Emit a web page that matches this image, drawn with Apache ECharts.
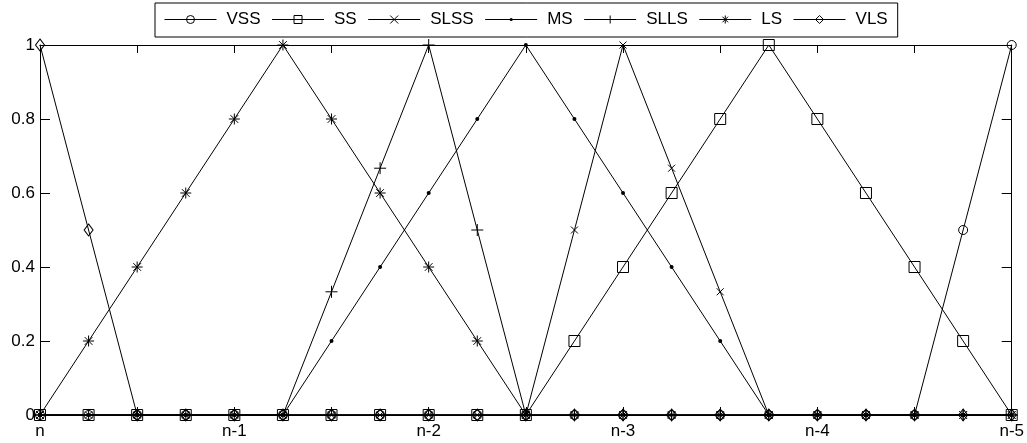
<!DOCTYPE html>
<html>
<head>
<meta charset="utf-8">
<script src="https://cdn.jsdelivr.net/npm/echarts@6/dist/echarts.min.js"></script>
<style>
  html, body { margin: 0; padding: 0; background: #fff; }
  #chart { width: 1027px; height: 443px; }
</style>
</head>
<body>
<div id="chart"></div>
<script>
// Input position (in steps of one lag) and membership grades per fuzzy set
const xs = [0, 0.25, 0.5, 0.75, 1, 1.25, 1.5, 1.75, 2, 2.25, 2.5, 2.75, 3, 3.25, 3.5, 3.75, 4, 4.25, 4.5, 4.75, 5];
const tickLabels = ['n', 'n-1', 'n-2', 'n-3', 'n-4', 'n-5'];
const setNames = ['VSS', 'SS', 'SLSS', 'MS', 'SLLS', 'LS', 'VLS'];

const VSS  = [0, 0, 0, 0, 0, 0, 0, 0, 0, 0, 0, 0, 0, 0, 0, 0, 0, 0, 0, 0.5, 1];
const SS   = [0, 0, 0, 0, 0, 0, 0, 0, 0, 0, 0, 0.2, 0.4, 0.6, 0.8, 1, 0.8, 0.6, 0.4, 0.2, 0];
const SLSS = [0, 0, 0, 0, 0, 0, 0, 0, 0, 0, 0, 0.5, 1, 0.667, 0.333, 0, 0, 0, 0, 0, 0];
const MS   = [0, 0, 0, 0, 0, 0, 0.2, 0.4, 0.6, 0.8, 1, 0.8, 0.6, 0.4, 0.2, 0, 0, 0, 0, 0, 0];
const SLLS = [0, 0, 0, 0, 0, 0, 0.333, 0.667, 1, 0.5, 0, 0, 0, 0, 0, 0, 0, 0, 0, 0, 0];
const LS   = [0, 0.2, 0.4, 0.6, 0.8, 1, 0.8, 0.6, 0.4, 0.2, 0, 0, 0, 0, 0, 0, 0, 0, 0, 0, 0];
const VLS  = [1, 0.5, 0, 0, 0, 0, 0, 0, 0, 0, 0, 0, 0, 0, 0, 0, 0, 0, 0, 0, 0];

const values = [VSS, SS, SLSS, MS, SLLS, LS, VLS];

// Marker shapes
const PLUS  = 'path://M5,0L5,10M0,5L10,5';
const CROSS = 'path://M0,0L10,10M10,0L0,10';
const STAR  = 'path://M5,0L5,10M0,5L10,5M1.5,1.5L8.5,8.5M8.5,1.5L1.5,8.5';
const DOT   = 'path://M0,0M10,10M3,5A2,2,0,1,1,7,5A2,2,0,1,1,3,5Z';

const hollow = { color: 'none', borderColor: '#000', borderWidth: 1 };
const markers = [
  { symbol: 'circle',  size: 9,       style: hollow },
  { symbol: 'rect',    size: 11,      style: hollow },
  { symbol: CROSS,     size: 7,       style: hollow },
  { symbol: DOT,       size: 10,      style: { color: '#000', borderWidth: 0 } },
  { symbol: PLUS,      size: 12,      style: hollow },
  { symbol: STAR,      size: 11,      style: hollow },
  { symbol: 'diamond', size: [9, 12], style: hollow }
];

const FONT = 'Liberation Sans, Arial, sans-serif';

const series = setNames.map((name, k) => ({
  name: name,
  type: 'line',
  xAxisIndex: 0,
  yAxisIndex: 0,
  data: xs.map((x, i) => [x, values[k][i]]),
  symbol: markers[k].symbol,
  symbolSize: markers[k].size,
  showAllSymbol: true,
  lineStyle: { color: '#000', width: 1 },
  itemStyle: markers[k].style,
  emphasis: { disabled: true },
  animation: false
}));

const chart = echarts.init(document.getElementById('chart'), null, { renderer: 'canvas' });

chart.setOption({
  backgroundColor: '#fff',
  animation: false,
  grid: { left: 40, right: 11, top: 45, bottom: 28, containLabel: false },
  legend: {
    data: setNames,
    left: 155,
    top: 3,
    orient: 'horizontal',
    itemWidth: 52,
    itemHeight: 10,
    itemGap: 11,
    padding: [8, 10, 9, 9],
    backgroundColor: '#fff',
    borderColor: '#000',
    borderWidth: 1,
    borderRadius: 0,
    itemStyle: { borderWidth: 1 },
    lineStyle: { width: 1 },
    textStyle: { color: '#000', fontSize: 17, fontFamily: FONT, padding: [0, 0, 0, 5] },
    selectedMode: false
  },
  xAxis: [
    {
      type: 'value', min: 0, max: 5, interval: 0.5, position: 'bottom',
      axisLine: { show: true, onZero: false, lineStyle: { color: '#000', width: 1 } },
      axisTick: { show: true, inside: true, length: 8, lineStyle: { color: '#000' } },
      axisLabel: {
        color: '#000', fontSize: 17, fontFamily: FONT, margin: 8,
        formatter: v => (Number.isInteger(v) ? tickLabels[v] : '')
      },
      splitLine: { show: false }
    },
    {
      type: 'value', min: 0, max: 5, interval: 0.5, position: 'top',
      axisLine: { show: true, onZero: false, lineStyle: { color: '#000', width: 1 } },
      axisTick: { show: true, inside: true, length: 8, lineStyle: { color: '#000' } },
      axisLabel: { show: false },
      splitLine: { show: false }
    }
  ],
  yAxis: [
    {
      type: 'value', min: 0, max: 1, interval: 0.2, position: 'left',
      axisLine: { show: true, onZero: false, lineStyle: { color: '#000', width: 1 } },
      axisTick: { show: true, inside: true, length: 10, lineStyle: { color: '#000' } },
      axisLabel: {
        color: '#000', fontSize: 17, fontFamily: FONT, margin: 5,
        formatter: v => (v === 0 ? '0' : v === 1 ? '1' : v.toFixed(1))
      },
      splitLine: { show: false }
    },
    {
      type: 'value', min: 0, max: 1, interval: 0.2, position: 'right',
      axisLine: { show: true, onZero: false, lineStyle: { color: '#000', width: 1 } },
      axisTick: { show: true, inside: true, length: 10, lineStyle: { color: '#000' } },
      axisLabel: { show: false },
      splitLine: { show: false }
    }
  ],
  series: series
});
</script>
</body>
</html>
